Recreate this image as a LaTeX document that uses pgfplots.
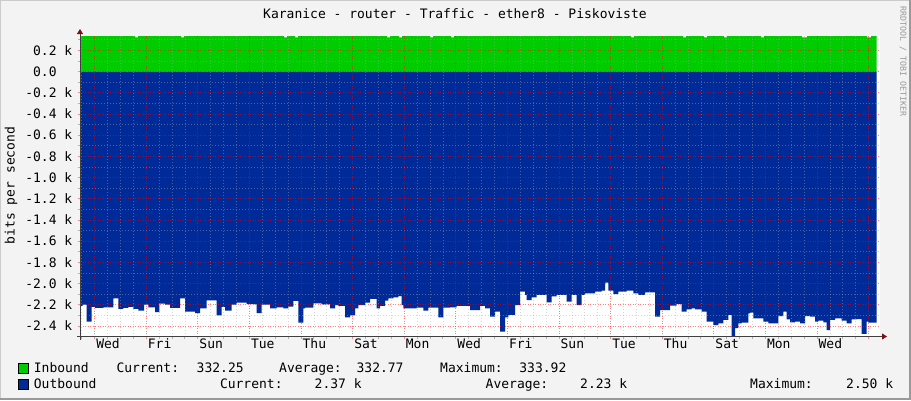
\documentclass[border=0pt]{standalone}
\usepackage{fontspec}
\usepackage{pgfplots}
\usepackage{pgfplotstable}
\pgfplotsset{compat=1.18}
\usetikzlibrary{arrows.meta}
\newfontfamily\mono{DejaVu Sans Mono}
\newcommand\lbl{\mono\fontsize{13}{15}\selectfont}
\definecolor{canvasbg}{HTML}{F3F3F3}
\definecolor{ingreen}{HTML}{00CC00}
\definecolor{outblue}{HTML}{002A97}
\definecolor{arrowred}{HTML}{7F1010}
\definecolor{shadea}{HTML}{CBCBCB}
\definecolor{shadeb}{HTML}{999999}
\definecolor{axiscol}{HTML}{404040}

\pgfplotstableread{
x y
80 0.333
135 0.322
138 0.333
181 0.322
184 0.333
284 0.322
287 0.333
295 0.322
298 0.333
387 0.322
390 0.333
399 0.322
402 0.333
430 0.322
433 0.333
451 0.322
454 0.333
631 0.322
634 0.333
683 0.322
686 0.333
704 0.322
707 0.333
724 0.322
727 0.333
761 0.322
764 0.333
802 0.322
807 0.333
867 0.322
871 0.333
876.7 0.333
}\indata

\pgfplotstableread{
x y
80 -2.21
82.7 -2.20
86.7 -2.36
91.7 -2.22
95 -2.23
103.3 -2.225
113.3 -2.14
118.3 -2.24
123.3 -2.23
128.3 -2.22
133.3 -2.24
138.3 -2.255
144 -2.20
148.3 -2.225
155 -2.27
159.3 -2.19
165 -2.20
170 -2.23
180 -2.14
185 -2.265
195 -2.28
200 -2.235
206.7 -2.16
216.7 -2.30
221.7 -2.22
225 -2.255
231.7 -2.20
236.7 -2.18
246.7 -2.195
256.7 -2.28
261.7 -2.20
270 -2.234
276.7 -2.225
283.3 -2.234
288.3 -2.219
293.3 -2.165
298.3 -2.37
303.3 -2.234
305 -2.228
313.3 -2.187
321.7 -2.197
330 -2.234
335 -2.203
338.3 -2.212
345 -2.319
350 -2.30
355 -2.234
358.3 -2.203
365 -2.18
370 -2.146
376.7 -2.234
380 -2.212
385 -2.162
388.3 -2.140
393.3 -2.131
398.3 -2.118
401.7 -2.203
403.3 -2.234
416.7 -2.228
423.3 -2.256
428.3 -2.228
438.3 -2.319
443.3 -2.228
450 -2.225
456.7 -2.212
470 -2.25
480 -2.212
485 -2.234
490 -2.313
495 -2.266
500 -2.455
505 -2.319
508.3 -2.297
515 -2.203
520 -2.077
525 -2.108
526.7 -2.156
531.7 -2.131
536.7 -2.108
546.7 -2.178
551.7 -2.121
556.7 -2.108
566.7 -2.171
571.7 -2.108
576.7 -2.203
581.7 -2.108
585 -2.093
595 -2.077
601.7 -2.068
605 -1.992
608.3 -2.068
613.3 -2.099
618.3 -2.077
626.7 -2.068
633.3 -2.093
638.3 -2.108
645 -2.083
655 -2.313
660 -2.25
670 -2.209
676.7 -2.193
681.7 -2.266
686.7 -2.244
691.7 -2.234
695 -2.244
701.7 -2.266
706.7 -2.36
713.3 -2.392
718.3 -2.376
723.3 -2.344
728.3 -2.297
731.7 -2.50
735 -2.42
738.3 -2.376
741.7 -2.370
748.3 -2.281
750 -2.275
753.3 -2.330
763.3 -2.360
768.3 -2.376
778.3 -2.307
783.3 -2.266
786.7 -2.338
790 -2.366
795 -2.360
800 -2.376
805 -2.307
810 -2.313
815 -2.360
818.3 -2.350
823.3 -2.366
826.7 -2.439
830 -2.344
835 -2.328
841.7 -2.350
846.7 -2.376
851.7 -2.338
856.7 -2.335
861.7 -2.476
866.7 -2.360
868.3 -2.370
876.7 -2.370
}\outdata

\begin{document}
\begin{tikzpicture}[x=1pt,y=-1pt]
% canvas and 3D border
\fill[canvasbg] (0,0) rectangle (911,400);
\fill[shadea] (0,0) rectangle (911,1);
\fill[shadea] (0,0) rectangle (1,400);
\fill[shadeb] (909,0) rectangle (911,400);
\fill[shadeb] (0,398) rectangle (911,400);

\begin{axis}[
  at={(80pt,-336.5pt)}, anchor=south west,
  scale only axis, width=800pt, height=300.5pt,
  xmin=80, xmax=880, ymin=-2.5, ymax=0.335,
  axis lines=left,
  axis on top,
  axis background/.style={fill=white},
  axis line style={axiscol, line width=0.8pt},
  x axis line style={-{Triangle[color=arrowred,width=6pt,length=5pt]}, shorten >=-7pt, shorten <=-3pt},
  y axis line style={-{Triangle[color=arrowred,width=6pt,length=5pt]}, shorten >=-7pt, shorten <=-3pt},
  xtick={94.5,146.1,197.7,249.3,300.9,352.5,404.1,455.7,507.3,558.9,610.5,662.1,713.7,765.3,816.9,868.5},
  xticklabels={},
  minor xtick={81.6,107.4,120.3,133.2,159.0,171.9,184.8,210.6,223.5,236.4,262.2,275.1,288.0,313.8,326.7,339.6,365.4,378.3,391.2,417.0,429.9,442.8,468.6,481.5,494.4,520.2,533.1,546.0,571.8,584.7,597.6,623.4,636.3,649.2,675.0,687.9,700.8,726.6,739.5,752.4,778.2,791.1,804.0,829.8,842.7,855.6},
  extra x ticks={108,159.6,211.2,262.8,314.4,366,417.6,469.2,520.8,572.4,624,675.6,727.2,778.8,830.4},
  extra x tick labels={Wed,Fri,Sun,Tue,Thu,Sat,Mon,Wed,Fri,Sun,Tue,Thu,Sat,Mon,Wed},
  extra x tick style={grid=none, major tick length=0pt,
     xticklabel style={font=\lbl, anchor=north, inner sep=0pt, yshift=-2pt}},
  ytick={-2.4,-2.2,-2.0,-1.8,-1.6,-1.4,-1.2,-1.0,-0.8,-0.6,-0.4,-0.2,0,0.2},
  yticklabels={-2.4 k,-2.2 k,-2.0 k,-1.8 k,-1.6 k,-1.4 k,-1.2 k,-1.0 k,-0.8 k,-0.6 k,-0.4 k,-0.2 k,0.0\hphantom{\ k},0.2 k},
  minor ytick={-2.3,-2.1,-1.9,-1.7,-1.5,-1.3,-1.1,-0.9,-0.7,-0.5,-0.3,-0.1,0.1,0.3},
  yticklabel style={font=\lbl, anchor=east, inner sep=0pt, xshift=-5pt},
  grid=both,
  major grid style={draw=red, draw opacity=0.5, line width=0.6pt, dash pattern=on 1pt off 1.5pt},
  minor grid style={draw=black!35, draw opacity=0.45, line width=0.55pt, dash pattern=on 1pt off 2pt},
  tick align=outside,
  major tick length=2.5pt, minor tick length=2.5pt,
  major tick style={draw=red!45, line width=0.7pt},
  minor tick style={draw=black!30, line width=0.7pt},
]
\addplot[draw=none, fill=ingreen, const plot mark left] table[x=x,y=y] {\indata} \closedcycle;
\addplot[draw=none, fill=outblue, const plot mark left] table[x=x,y=y] {\outdata} \closedcycle;
\end{axis}

% title, axis label, watermark
\node[font=\lbl, anchor=base] at (455,18.5) {Karanice - router - Traffic - ether8 - Piskoviste};
\node[font=\lbl, rotate=90, anchor=center] at (11,185.5) {bits per second};
\node[font=\mono\fontsize{8.3}{10}\selectfont, text=black!40, rotate=-90, anchor=west, inner sep=0pt] at (903,6) {RRDTOOL / TOBI OETIKER};

% legend
\filldraw[fill=ingreen, draw=black, line width=0.8pt] (18,363) rectangle (28,373);
\filldraw[fill=outblue, draw=black, line width=0.8pt] (18,379) rectangle (28,389);
\begin{scope}[every node/.style={font=\lbl, anchor=base west, inner sep=0pt}]
\node at (33.7,372.5) {Inbound};
\node at (116.3,372.5) {Current:};
\node at (196.5,372.5) {332.25};
\node at (279,372.5) {Average:};
\node at (356.4,372.5) {332.77};
\node at (440,372.5) {Maximum:};
\node at (519.2,372.5) {333.92};
\node at (33.7,388.5) {Outbound};
\node at (219.8,388.5) {Current:};
\node at (314.5,388.5) {2.37 k};
\node at (485.5,388.5) {Average:};
\node at (580,388.5) {2.23 k};
\node at (750,388.5) {Maximum:};
\node at (846,388.5) {2.50 k};
\end{scope}
\end{tikzpicture}
\end{document}
